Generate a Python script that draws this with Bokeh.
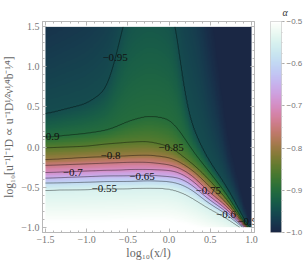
import numpy as np
from bokeh.plotting import figure
from bokeh.layouts import row
from bokeh.models import (LinearColorMapper, FixedTicker, LinearAxis,
                          CustomJSTickFormatter, Range1d)
from bokeh.core.properties import value
from bokeh.embed import file_html
from bokeh.resources import INLINE

# ---- data: y position where alpha crosses each level, per x column ----
x_cols = [-1.5, -1.0, -0.75, -0.6, -0.5, -0.25, 0.0, 0.1, 0.18, 0.3, 0.45, 0.7, 0.85, 0.95, 1.05]
lv_m100 = [2.5, 2.8, 3.2, 3.6, 4.0, 4.3, 3.9, 3.7, 3.5, 3.2, 2.4, 0.2, -0.4, -0.90, -1.10]
lv_m099 = [1.75, 2.1, 2.4, 2.8, 3.1, 3.4, 3.3, 3.1, 2.9, 2.6, 1.6, -0.1, -0.55, -0.94, -1.12]
lv_m097 = [1.05, 1.3, 1.6, 2.0, 2.4, 2.7, 2.7, 2.5, 2.1, 1.7, 0.6, -0.3, -0.68, -0.97, -1.13]
lv_m095 = [0.41, 0.54, 0.72, 1.3, 1.8, 2.1, 1.9, 1.45, 0.60, 0.20, -0.12, -0.50, -0.78, -0.99, -1.14]
lv_m090 = [0.12, 0.17, 0.21, 0.27, 0.32, 0.39, 0.35, 0.24, 0.12, -0.07, -0.26, -0.59, -0.84, -1.00, -1.15]
lv_m085 = [-0.01, 0.01, 0.04, 0.05, 0.06, 0.07, 0.01, -0.06, -0.13, -0.22, -0.37, -0.65, -0.87, -1.01, -1.16]
lv_m080 = [-0.16, -0.13, -0.12, -0.115, -0.11, -0.10, -0.13, -0.17, -0.22, -0.30, -0.45, -0.70, -0.89, -1.02, -1.17]
lv_m075 = [-0.23, -0.21, -0.20, -0.195, -0.19, -0.19, -0.22, -0.25, -0.29, -0.37, -0.53, -0.74, -0.91, -1.03, -1.18]
lv_m070 = [-0.32, -0.30, -0.29, -0.29, -0.28, -0.28, -0.29, -0.31, -0.35, -0.43, -0.58, -0.78, -0.93, -1.035, -1.19]
lv_m065 = [-0.39, -0.37, -0.36, -0.36, -0.36, -0.35, -0.37, -0.38, -0.41, -0.49, -0.63, -0.81, -0.95, -1.04, -1.20]
lv_m060 = [-0.45, -0.44, -0.43, -0.43, -0.43, -0.42, -0.43, -0.45, -0.48, -0.55, -0.68, -0.84, -0.97, -1.045, -1.21]
lv_m055 = [-0.54, -0.53, -0.52, -0.52, -0.52, -0.51, -0.52, -0.55, -0.58, -0.65, -0.75, -0.89, -1.00, -1.05, -1.22]
lv_m050 = [-0.95, -0.95, -0.95, -0.94, -0.94, -0.93, -0.93, -0.95, -0.97, -1.0, -1.05, -1.1, -1.15, -1.2, -1.3]

level_values = [-0.5, -0.55, -0.6, -0.65, -0.7, -0.75, -0.8, -0.85, -0.9, -0.95, -0.97, -0.99, -1.0]
level_rows = [lv_m050, lv_m055, lv_m060, lv_m065, lv_m070, lv_m075, lv_m080,
              lv_m085, lv_m090, lv_m095, lv_m097, lv_m099, lv_m100]

contour_levels = [-0.95, -0.9, -0.85, -0.8, -0.75, -0.7, -0.65, -0.6, -0.55]
label_text = ["\u22120.95", "\u22120.9", "\u22120.85", "\u22120.8", "\u22120.75",
              "\u22120.7", "\u22120.65", "\u22120.6", "\u22120.55", "\u22120.9"]
label_x = [-0.655, -1.45, 0.024, -0.71, 0.476, -1.17, -0.33, 0.69, -0.786, 0.948]
label_y = [1.12, 0.13, -0.01, -0.11, -0.54, -0.32, -0.37, -0.84, -0.52, -0.93]

x_ticks = [-1.5, -1.0, -0.5, 0.0, 0.5, 1.0]
y_ticks = [-1.0, -0.5, 0.0, 0.5, 1.0, 1.5]
cb_ticks = [-1.0, -0.9, -0.8, -0.7, -0.6, -0.5]
alpha_low, alpha_high = -1.0, -0.5

# ---- build the field on a fine grid from the read level positions ----
nx, ny = 260, 260
xf = np.linspace(-1.5, 1.0, nx)
yf = np.linspace(-1.0, 1.5, ny)


def smooth(a, w=15):
    k = np.ones(w) / w
    a = np.convolve(np.pad(a, w // 2, mode="edge"), k, mode="valid")
    return np.convolve(np.pad(a, w // 2, mode="edge"), k, mode="valid")


crossings = np.array([smooth(np.interp(xf, x_cols, r)) for r in level_rows])
Z = np.empty((ny, nx))
for i in range(nx):
    Z[:, i] = np.interp(yf, crossings[:, i], level_values)


def cubehelix(n, start=0.5, rot=-1.5, hue=1.0, lo=0.15, hi=1.0):
    lam = np.linspace(lo, hi, n)
    phi = 2 * np.pi * (start / 3 + 1 + rot * lam)
    amp = hue * lam * (1 - lam) / 2
    r = lam + amp * (-0.14861 * np.cos(phi) + 1.78277 * np.sin(phi))
    g = lam + amp * (-0.29227 * np.cos(phi) - 0.90649 * np.sin(phi))
    b = lam + amp * (1.97294 * np.cos(phi))
    out = []
    for rr, gg, bb in zip(r, g, b):
        c = [int(round(255 * min(1, max(0, v)))) for v in (rr, gg, bb)]
        out.append("#%02x%02x%02x" % tuple(c))
    return out


palette = cubehelix(256)
mapper = LinearColorMapper(palette=palette, low=alpha_low, high=alpha_high)

SERIF = "Liberation Serif"
GRAY = "#777777"
FRAME = "#b8b8b8"

p = figure(width=258, height=276, output_backend="svg", toolbar_location=None,
           x_range=Range1d(-1.536, 1.036), y_range=Range1d(-1.067, 1.567),
           min_border_left=38, min_border_top=16, min_border_bottom=44, min_border_right=4,
           background_fill_color="white", border_fill_color="white")
p.grid.visible = False
p.outline_line_color = FRAME

p.image(image=[Z], x=-1.5, y=-1.0, dw=2.5, dh=2.5, color_mapper=mapper)
p.contour(x=xf, y=yf, z=Z, levels=contour_levels,
          line_color="#000000", line_alpha=0.6, line_width=0.7)
p.text(x=label_x, y=label_y, text=label_text, text_font=value(SERIF),
       text_font_size="11px", text_align="center", text_baseline="middle",
       text_color="#111111")

minor_x = [round(-1.5 + 0.1 * k, 2) for k in range(26)]
minor_y = [round(-1.0 + 0.1 * k, 2) for k in range(26)]
fmt = CustomJSTickFormatter(code="return (tick < -1e-9 ? '\u2212' : '') + Math.abs(tick).toFixed(1);")
blank = CustomJSTickFormatter(code="return '';")


def style_axis(ax):
    ax.axis_line_color = FRAME
    ax.major_tick_line_color = FRAME
    ax.minor_tick_line_color = FRAME
    ax.major_tick_in = 4
    ax.major_tick_out = 0
    ax.minor_tick_in = 2
    ax.minor_tick_out = 0
    ax.major_label_text_font = SERIF
    ax.major_label_text_font_size = "10px"
    ax.major_label_text_color = GRAY
    ax.axis_label_text_font = SERIF
    ax.axis_label_text_font_size = "11.5px"
    ax.axis_label_text_font_style = "normal"
    ax.axis_label_text_color = "#666666"


p.xaxis.ticker = FixedTicker(ticks=x_ticks, minor_ticks=minor_x)
p.yaxis.ticker = FixedTicker(ticks=y_ticks, minor_ticks=minor_y)
p.xaxis.formatter = fmt
p.yaxis.formatter = fmt
style_axis(p.xaxis[0])
style_axis(p.yaxis[0])
p.xaxis.axis_label_text_font_size = "12px"
p.xaxis.axis_label = "log\u2081\u2080(x/l)"
p.yaxis.axis_label = "log\u2081\u2080[u\u207b\u00b9l\u207b\u00b9D \u221d u\u207b\u00b9D\u00b9\u2044\u00b2\u03bd\u00b9\u2044\u2074b\u207b\u00b9\u2044\u2074]"
p.xaxis.major_label_standoff = 3
p.yaxis.major_label_standoff = 3
p.xaxis.axis_label_standoff = 0
p.yaxis.axis_label_standoff = 3

top_ax = LinearAxis(ticker=FixedTicker(ticks=x_ticks, minor_ticks=minor_x), formatter=blank)
right_ax = LinearAxis(ticker=FixedTicker(ticks=y_ticks, minor_ticks=minor_y), formatter=blank)
style_axis(top_ax)
style_axis(right_ax)
top_ax.major_label_standoff = 0
right_ax.major_label_standoff = 0
p.add_layout(top_ax, "above")
p.add_layout(right_ax, "right")

# ---- colour bar as its own narrow figure ----
ramp = np.linspace(alpha_low, alpha_high, 256).reshape(256, 1)
cbf = figure(width=49, height=276, output_backend="svg", toolbar_location=None,
             x_range=Range1d(0, 1), y_range=Range1d(alpha_low, alpha_high),
             y_axis_location="right",
             min_border_left=12, min_border_right=26, min_border_top=21, min_border_bottom=20,
             background_fill_color="white", border_fill_color="white")
cbf.grid.visible = False
cbf.xaxis.visible = False
cbf.outline_line_color = "#cfcfcf"
cbf.image(image=[ramp], x=0, y=alpha_low, dw=1, dh=alpha_high - alpha_low, color_mapper=mapper)
cax = cbf.yaxis[0]
cax.ticker = FixedTicker(ticks=cb_ticks, minor_ticks=[round(-1.0 + 0.025 * k, 3) for k in range(21)])
cax.formatter = fmt
cax.axis_line_color = None
cax.major_tick_line_color = "#aaaaaa"
cax.minor_tick_line_color = "#cccccc"
cax.major_tick_in = 0
cax.major_tick_out = 3
cax.minor_tick_in = 0
cax.minor_tick_out = 1
cax.major_label_standoff = 2
cax.major_label_text_font = "Liberation Sans"
cax.major_label_text_font_size = "8px"
cax.major_label_text_color = GRAY
cbf.title.text = "\u03b1"
cbf.title.text_font = SERIF
cbf.title.text_font_style = "italic"
cbf.title.text_font_size = "10px"
cbf.title.text_color = "#333333"
cbf.title.align = "left"
cbf.title.offset = 12
cbf.title.standoff = 7

layout = row(p, cbf)
open("out.html", "w").write(file_html(layout, INLINE))
